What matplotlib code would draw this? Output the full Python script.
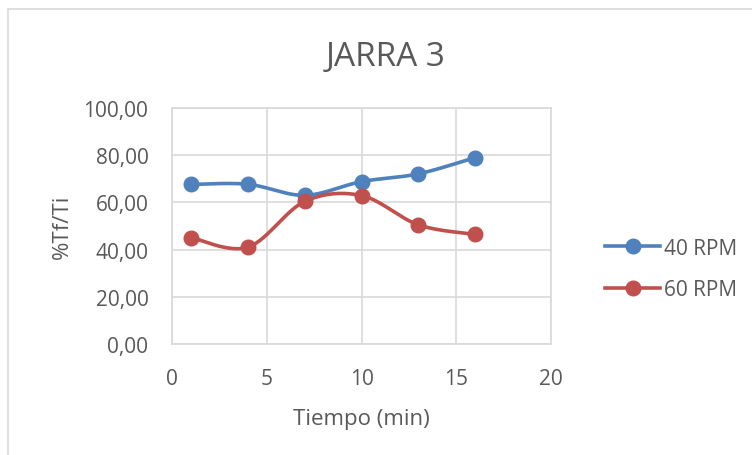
import numpy as np
import matplotlib.pyplot as plt
from matplotlib.patches import Rectangle

# datos
tiempo = [1, 4, 7, 10, 13, 16]
rpm40 = [67.6, 67.7, 63.0, 68.8, 72.1, 79.0]
rpm60 = [45.1, 41.0, 60.4, 62.9, 50.5, 46.4]
series_names = ['40 RPM', '60 RPM']
yticks = [0, 20, 40, 60, 80, 100]
xticks = [0, 5, 10, 15, 20]

TXT = '#595959'
plt.rcParams['font.family'] = ['Open Sans', 'DejaVu Sans']


def smooth(x, y, n=30):
    """Curva suavizada tipo Excel (Catmull-Rom por tramos de Bezier)."""
    x = np.asarray(x, float)
    y = np.asarray(y, float)
    px = np.concatenate([[x[0]], x, [x[-1]]])
    py = np.concatenate([[y[0]], y, [y[-1]]])
    xs, ys = [], []
    t = np.linspace(0, 1, n)
    for i in range(1, len(px) - 2):
        p0 = np.array([px[i], py[i]])
        p3 = np.array([px[i + 1], py[i + 1]])
        p1 = p0 + (np.array([px[i + 1], py[i + 1]]) - np.array([px[i - 1], py[i - 1]])) / 6
        p2 = p3 - (np.array([px[i + 2], py[i + 2]]) - np.array([px[i], py[i]])) / 6
        b = ((1 - t) ** 3)[:, None] * p0 + (3 * (1 - t) ** 2 * t)[:, None] * p1 \
            + (3 * (1 - t) * t ** 2)[:, None] * p2 + (t ** 3)[:, None] * p3
        xs.extend(b[:, 0])
        ys.extend(b[:, 1])
    return xs, ys


fig = plt.figure(figsize=(7.52, 4.56), dpi=100)
fig.patches.append(Rectangle((8 / 752, -0.1), 1.2, 1 - 10 / 456 + 0.1, transform=fig.transFigure,
                             fill=False, edgecolor='#d9d9d9', linewidth=1.2))
ax = fig.add_axes([172 / 752, 1 - 345 / 456, (551 - 172) / 752, (345 - 109) / 456])

colors = ['#4f81bd', '#c0504d']
for vals, name, c in zip([rpm40, rpm60], series_names, colors):
    sx, sy = smooth(tiempo, vals)
    ax.plot(sx, sy, color=c, linewidth=2.6, solid_capstyle='round', zorder=3)
    ax.plot(tiempo, vals, linestyle='none', marker='o', markersize=10.5, color=c, zorder=4)
    ax.plot([], [], color=c, linewidth=2.6, marker='o', markersize=10.5, label=name)

ax.set_xlim(0, 20)
ax.set_ylim(0, 100)
ax.set_xticks(xticks)
ax.set_yticks(yticks)
ax.set_yticklabels([f'{v:.2f}'.replace('.', ',') for v in yticks])
ax.grid(True, color='#d9d9d9', linewidth=1.2)
ax.set_axisbelow(True)
for s in ax.spines.values():
    s.set_color('#d9d9d9')
    s.set_linewidth(1.2)
ax.tick_params(length=0, labelsize=15, colors=TXT)
ax.tick_params(axis='x', pad=17)
ax.tick_params(axis='y', pad=17)

ax.set_xlabel('Tiempo (min)', fontsize=16, color=TXT, labelpad=14)
ax.set_ylabel('%Tf/Ti', fontsize=16, color=TXT, labelpad=8)
fig.text(386 / 752, 1 - 57 / 456, 'JARRA 3', fontsize=24, color=TXT, ha='center', va='center')

leg = ax.legend(loc='center left', bbox_to_anchor=(595 / 752, 1 - 270 / 456),
                bbox_transform=fig.transFigure, frameon=False, fontsize=15,
                handlelength=2.6, handletextpad=0.2, labelspacing=1.0, borderpad=0)
for t in leg.get_texts():
    t.set_color(TXT)

fig.savefig('out.png', dpi=100)
